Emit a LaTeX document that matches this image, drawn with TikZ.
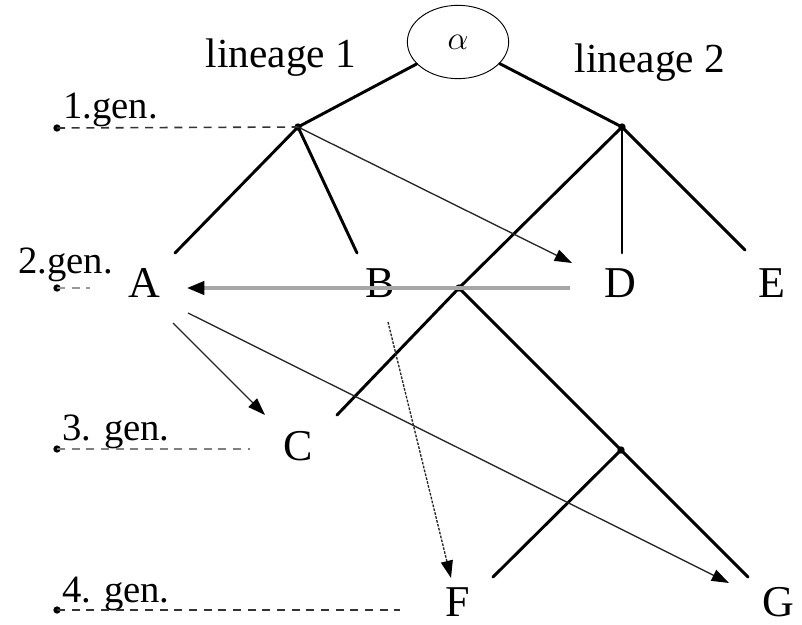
\documentclass[tikz,border=0pt]{standalone}
\usepackage{fontspec}
\setmainfont{Liberation Serif}
\usetikzlibrary{arrows.meta,shapes.geometric}
\tikzset{
    branch/.style={line width=2.2pt, black, line cap=round},
    descent/.style={line width=1pt, black!85,
        -{Triangle[length=13pt,width=9pt,color=black]}},
    migration/.style={line width=2.4pt, black!35,
        -{Triangle[length=13pt,width=10pt,color=black,fill=black]}},
    genline/.style={line width=1.2pt, dash pattern=on 6pt off 5pt},
    genlabel/.style={anchor=base west, inner sep=0pt, font=\fontsize{29}{32}\selectfont},
    taxon/.style={anchor=base, inner sep=0pt, font=\fontsize{33}{36}\selectfont},
    lineage/.style={anchor=base, inner sep=0pt, font=\fontsize{31}{34}\selectfont},
    knotdot/.style={circle, fill=black, inner sep=0pt, minimum size=5.5pt}
}
\begin{document}
\begin{tikzpicture}[x=0.75pt, y=-0.75pt]
    \useasboundingbox (0,0) rectangle (802,624);

    % root and lineage labels
    \node[draw, ellipse, line width=0.7pt, minimum width=76pt, minimum height=55pt,
          font=\fontsize{25}{28}\selectfont] (alpha) at (458,42) {$\alpha$};
    \node[lineage] (lin1) at (281,68) {lineage 1};
    \node[lineage] (lin2) at (650,73) {lineage 2};

    % taxa
    \node[taxon] (A) at (144,297) {A};
    \node[taxon] (B) at (380,297) {B};
    \node[taxon] (D) at (620,297) {D};
    \node[taxon] (E) at (772,297) {E};
    \node[taxon] (C) at (298,460) {C};
    \node[taxon] (F) at (458,616) {F};
    \node[taxon] (G) at (778,616) {G};

    % branch points
    \node[knotdot] (p1) at (298,127) {};
    \node[knotdot] (p2) at (622,127) {};
    \node[knotdot] (p3) at (459,288) {};
    \node[knotdot] (p4) at (621,450) {};

    % branch tips
    \coordinate (tA) at (175,253);
    \coordinate (tB) at (357,253);
    \coordinate (tD) at (622,253);
    \coordinate (tE) at (745,250);
    \coordinate (tC) at (337,415);
    \coordinate (tF) at (493,577);
    \coordinate (tG) at (748,577);

    % the tree
    \draw[branch] (alpha) -- (p1.center);
    \draw[branch] (alpha) -- (p2.center);
    \draw[branch] (p1.center) -- (tA);
    \draw[branch] (p1.center) -- (tB);
    \draw[branch] (p2.center) -- (tD);
    \draw[branch] (p2.center) -- (tE);
    \draw[branch] (p2.center) -- (p3.center) -- (tC);
    \draw[branch] (p3.center) -- (p4.center) -- (tG);
    \draw[branch] (p4.center) -- (tF);

    % generations
    \node[knotdot] (g1) at (57,128) {};
    \node[knotdot] (g2) at (57,288) {};
    \node[knotdot] (g3) at (57,449) {};
    \node[knotdot] (g4) at (57,610) {};
    \coordinate (e2) at (90,288);
    \coordinate (e3) at (250,449);
    \coordinate (e4) at (400,610);
    \node[genlabel] (l1) at (63,118) {1.gen.};
    \node[genlabel] (l2) at (18,273) {2.gen.};
    \node[genlabel] (l3) at (62,440) {3. gen.};
    \node[genlabel] (l4) at (62,602) {4. gen.};
    \draw[genline, black!80] (g1.center) -- (p1.center);
    \draw[genline, black!40] (g2.center) -- (e2);
    \draw[genline, black!50] (g3.center) -- (e3);
    \draw[genline, black!80] (g4.center) -- (e4);

    % transfers
    \coordinate (sD) at (570,288);
    \coordinate (hA) at (187,288);
    \coordinate (hD) at (572,263);
    \coordinate (sA1) at (173,323);
    \coordinate (hC) at (265,415);
    \coordinate (sA2) at (188,313);
    \coordinate (hG) at (729,583);
    \coordinate (sB) at (388,322);
    \coordinate (hF) at (451,578);
    \draw[migration] (sD) -- (hA);
    \draw[descent] (p1.center) -- (hD);
    \draw[descent] (sA1) -- (hC);
    \draw[descent] (sA2) -- (hG);
    \draw[descent, dash pattern=on 2pt off 1pt] (sB) -- (hF);
\end{tikzpicture}
\end{document}
